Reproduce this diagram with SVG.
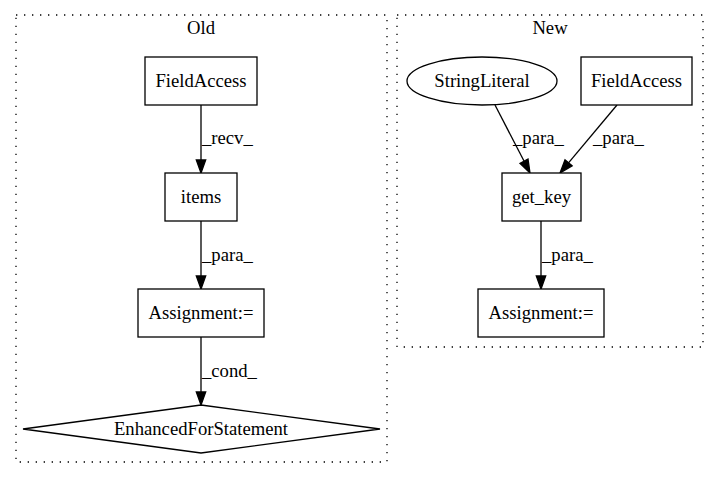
<svg xmlns="http://www.w3.org/2000/svg" width="719" height="480" viewBox="0 0 719 480">
<style>
text { font-family: "Liberation Serif", "Times New Roman", serif; font-size: 18.67px; fill: #000; }
.c { text-anchor: middle; }
.cluster { fill: none; stroke: #000; stroke-width: 1.3; stroke-dasharray: 1.33,6.67; }
.node { fill: #fff; stroke: #000; stroke-width: 1.3; }
.edge { stroke: #000; stroke-width: 1.3; fill: none; }
.head { fill: #000; stroke: #000; stroke-width: 1.3; }
</style>
<rect width="719" height="480" fill="#fff"/>
<g id="cluster_old">
  <rect class="cluster" x="16" y="15" width="371" height="447"/>
  <text class="c" x="201" y="34">Old</text>
</g>
<g id="cluster_new">
  <rect class="cluster" x="397" y="15" width="306" height="332"/>
  <text class="c" x="550" y="34">New</text>
</g>
<g id="connectors">
  <line class="edge" x1="201" y1="105" x2="201" y2="160"/>
  <polygon class="head" points="196.3,160 205.7,160 201,173"/>
  <text x="202" y="144">_recv_</text>
  <line class="edge" x1="201" y1="221" x2="201" y2="276"/>
  <polygon class="head" points="196.3,276 205.7,276 201,289"/>
  <text x="202" y="261">_para_</text>
  <line class="edge" x1="201" y1="337" x2="201" y2="392"/>
  <polygon class="head" points="196.3,392 205.7,392 201,405"/>
  <text x="202" y="377">_cond_</text>
  <line class="edge" x1="495" y1="105" x2="524" y2="161"/>
  <polygon class="head" points="528,159 520,163.3 530,173"/>
  <text x="513" y="144">_para_</text>
  <line class="edge" x1="617" y1="105" x2="568.5" y2="162.8"/>
  <polygon class="head" points="572.1,165.8 565,159.8 560,173"/>
  <text x="593" y="144">_para_</text>
  <line class="edge" x1="541" y1="221" x2="541" y2="276"/>
  <polygon class="head" points="536.3,276 545.7,276 541,289"/>
  <text x="542" y="261">_para_</text>
</g>
<g id="old_fieldaccess">
  <rect class="node" x="145" y="57" width="112" height="48"/>
  <text class="c" x="201" y="87">FieldAccess</text>
</g>
<g id="old_items">
  <rect class="node" x="165" y="173" width="72" height="48"/>
  <text class="c" x="201" y="203">items</text>
</g>
<g id="old_assignment">
  <rect class="node" x="138" y="289" width="126" height="48"/>
  <text class="c" x="201" y="319">Assignment:=</text>
</g>
<g id="old_enhancedfor">
  <polygon class="node" points="201,405 380,429 201,453 23,429"/>
  <text class="c" x="201" y="435">EnhancedForStatement</text>
</g>
<g id="new_stringliteral">
  <ellipse class="node" cx="482" cy="81" rx="75" ry="24"/>
  <text class="c" x="482" y="87">StringLiteral</text>
</g>
<g id="new_fieldaccess">
  <rect class="node" x="581" y="57" width="111" height="48"/>
  <text class="c" x="636.5" y="87">FieldAccess</text>
</g>
<g id="new_get_key">
  <rect class="node" x="502" y="173" width="79" height="48"/>
  <text class="c" x="541.5" y="203">get_key</text>
</g>
<g id="new_assignment">
  <rect class="node" x="478" y="289" width="126" height="48"/>
  <text class="c" x="541" y="319">Assignment:=</text>
</g>
</svg>
